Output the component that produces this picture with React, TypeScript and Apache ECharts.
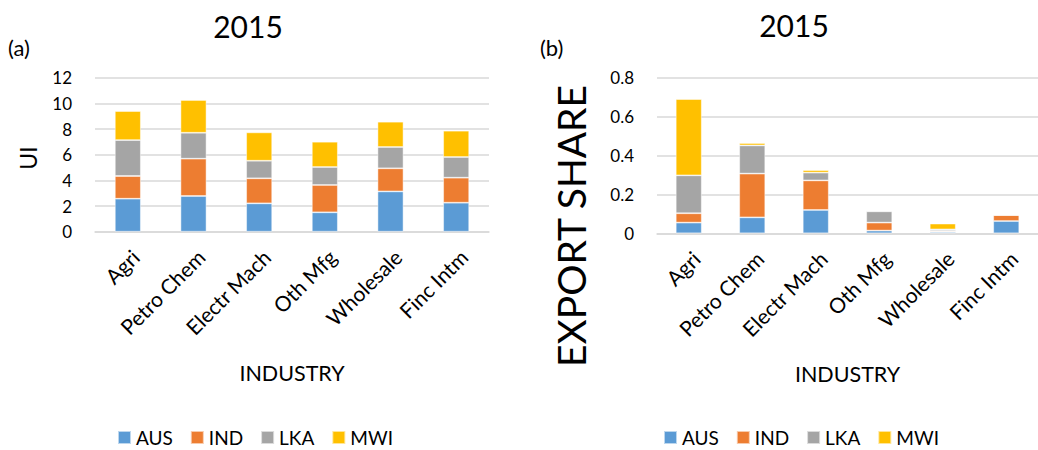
import React, { useEffect, useRef } from "react";
import * as echarts from "echarts";

// Industries on the category axis
const categories = ["Agri", "Petro Chem", "Electr Mach", "Oth Mfg", "Wholesale", "Finc Intm"];
const countries = ["AUS", "IND", "LKA", "MWI"];
const countryColors = ["#5B9BD5", "#ED7D31", "#A5A5A5", "#FFC000"];

// Panel (a): UI by country, stacked
const uiAUS = [2.57, 2.78, 2.21, 1.51, 3.14, 2.26];
const uiIND = [1.77, 2.91, 1.95, 2.13, 1.8, 1.95];
const uiLKA = [2.8, 2.02, 1.37, 1.4, 1.66, 1.61];
const uiMWI = [2.26, 2.55, 2.21, 1.97, 1.97, 2.05];

// Panel (b): export share by country, stacked
const shareAUS = [0.055, 0.082, 0.12, 0.014, 0.007, 0.063];
const shareIND = [0.048, 0.225, 0.152, 0.041, 0.005, 0.031];
const shareLKA = [0.195, 0.145, 0.04, 0.058, 0.008, 0];
const shareMWI = [0.392, 0.012, 0.013, 0.004, 0.03, 0];

const uiSeries = [uiAUS, uiIND, uiLKA, uiMWI];
const shareSeries = [shareAUS, shareIND, shareLKA, shareMWI];

const FONT = "Lato, 'Open Sans', sans-serif";
const GRID_LINE = "#D9D9D9";

function xAxisFor(gridIndex: number) {
  return {
    type: "category",
    gridIndex,
    data: categories,
    name: "INDUSTRY",
    nameLocation: "middle",
    nameGap: 130,
    nameTextStyle: { fontSize: 21.5, color: "#000", fontFamily: FONT },
    axisLine: { lineStyle: { color: GRID_LINE, width: 1.5 } },
    axisTick: { show: false },
    axisLabel: {
      rotate: 45,
      interval: 0,
      margin: 14,
      verticalAlign: "top",
      fontSize: 21,
      color: "#000",
      fontFamily: FONT,
    },
  };
}

function yAxisFor(gridIndex: number, max: number, interval: number) {
  return {
    type: "value",
    gridIndex,
    min: 0,
    max,
    interval,
    axisLine: { show: false },
    axisTick: { show: false },
    splitLine: { lineStyle: { color: GRID_LINE, width: 1.5 } },
    axisLabel: { fontSize: 17, color: "#000", fontFamily: FONT, margin: 23 },
  };
}

function label(text: string, x: number, y: number, fontSize: number, align: string, rotation = 0) {
  return {
    type: "text",
    x,
    y,
    rotation,
    style: { text, fontSize, fill: "#000", fontFamily: FONT, align, verticalAlign: "middle" },
  };
}

export default function App() {
  const ref = useRef<HTMLDivElement>(null);

  useEffect(() => {
    if (!ref.current) return;
    const chart = echarts.init(ref.current, undefined, { renderer: "svg" });

    const series: any[] = [];
    countries.forEach((c, i) => {
      series.push({
        name: c,
        type: "bar",
        stack: "ui",
        xAxisIndex: 0,
        yAxisIndex: 0,
        barWidth: 26,
        data: uiSeries[i],
        itemStyle: { color: countryColors[i], borderColor: "rgba(255,255,255,0.6)", borderWidth: 0.8 },
      });
    });
    countries.forEach((c, i) => {
      series.push({
        name: c,
        type: "bar",
        stack: "share",
        xAxisIndex: 1,
        yAxisIndex: 1,
        barWidth: 26,
        data: shareSeries[i],
        itemStyle: { color: countryColors[i], borderColor: "rgba(255,255,255,0.6)", borderWidth: 0.8 },
      });
    });

    const legendBase = {
      data: countries,
      icon: "rect",
      itemWidth: 13,
      itemHeight: 13,
      itemGap: 17,
      top: 423,
      textStyle: { fontSize: 19, color: "#000", fontFamily: FONT },
      selectedMode: false,
    };

    chart.setOption({
      animation: false,
      backgroundColor: "#fff",
      textStyle: { fontFamily: FONT },
      grid: [
        { left: 95, top: 77.7, width: 394, height: 154 },
        { left: 657, top: 77.7, width: 393, height: 155.6 },
      ],
      xAxis: [xAxisFor(0), xAxisFor(1)],
      yAxis: [yAxisFor(0, 12, 2), yAxisFor(1, 0.8, 0.2)],
      legend: [
        { ...legendBase, left: 112 },
        { ...legendBase, left: 658 },
      ],
      graphic: [
        label("2015", 248, 26, 30, "center"),
        label("2015", 794, 25, 30, "center"),
        label("(a)", 8, 47, 22, "left"),
        label("(b)", 540, 47, 22, "left"),
        label("UI", 28, 158, 23, "center", Math.PI / 2),
        label("EXPORT SHARE", 571, 226, 39, "center", Math.PI / 2),
      ],
      series,
    });

    return () => chart.dispose();
  }, []);

  return (
    <div
      ref={ref}
      style={{ position: "fixed", left: 0, top: 0, width: 1038, height: 450, background: "#fff" }}
    />
  );
}
